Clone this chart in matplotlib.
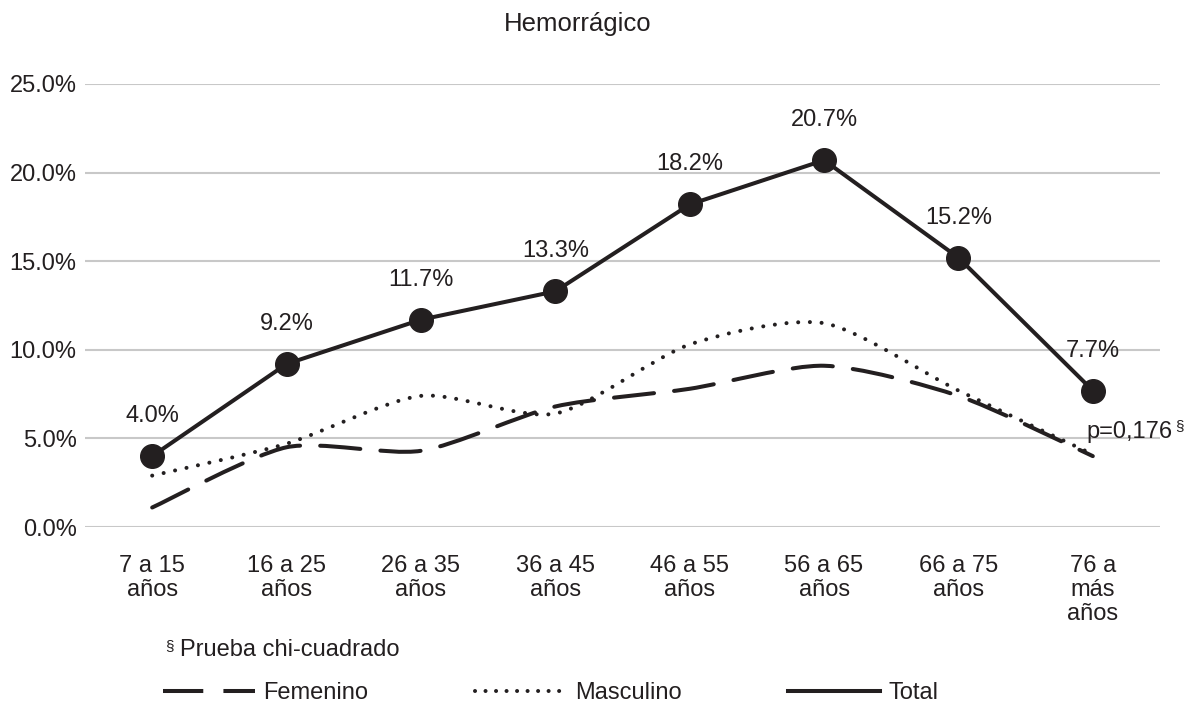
import matplotlib
matplotlib.use("Agg")
import matplotlib.pyplot as plt
import numpy as np
from matplotlib.path import Path
from matplotlib.patches import PathPatch
from matplotlib.lines import Line2D

plt.rcParams['font.family'] = ['Liberation Sans', 'DejaVu Sans']

categories = ["7 a 15\naños", "16 a 25\naños", "26 a 35\naños", "36 a 45\naños",
              "46 a 55\naños", "56 a 65\naños", "66 a 75\naños", "76 a\nmás\naños"]
femenino = [1.1, 4.5, 4.3, 6.8, 7.8, 9.1, 7.4, 4.0]
masculino = [2.9, 4.7, 7.4, 6.4, 10.3, 11.5, 7.7, 4.1]
total = [4.0, 9.2, 11.7, 13.3, 18.2, 20.7, 15.2, 7.7]
yticks = [0, 5, 10, 15, 20, 25]
title = "Hemorrágico"
p_text = "p=0,176"
note = "Prueba chi-cuadrado"

C = "#231f20"

fig = plt.figure(figsize=(11.91, 7.06), dpi=100)
ax = fig.add_axes([85/1191, 1-527/706, 1075/1191, (527-84)/706])

x = np.arange(len(categories))


def smooth_path(xs, ys, k=1/8.0):
    pts = np.column_stack([xs, ys]).astype(float)
    n = len(pts)
    verts = [pts[0]]
    codes = [Path.MOVETO]
    for i in range(n - 1):
        p0 = pts[i - 1] if i > 0 else pts[i]
        p1 = pts[i]
        p2 = pts[i + 1]
        p3 = pts[i + 2] if i + 2 < n else pts[i + 1]
        c1 = p1 + (p2 - p0) * k
        c2 = p2 - (p3 - p1) * k
        verts += [c1, c2, p2]
        codes += [Path.CURVE4] * 3
    return Path(verts, codes)


lw = 2.9
fem_patch = PathPatch(smooth_path(x, femenino), fill=False, edgecolor=C, lw=lw,
                      linestyle=(0, (10, 5)), capstyle='round', zorder=3)
ax.add_patch(fem_patch)
mas_patch = PathPatch(smooth_path(x, masculino), fill=False, edgecolor=C, lw=lw,
                      linestyle=(0, (0.01, 2.9)), capstyle='round', zorder=3)
ax.add_patch(mas_patch)

ax.plot(x, total, color=C, lw=lw, marker='o', markersize=17, zorder=4)

for xi, v in zip(x, total):
    ax.annotate(f"{v:.1f}%", xy=(xi, v), xytext=(0, 40), textcoords='offset pixels',
                ha='center', va='center', fontsize=17, color=C)

ax.set_xlim(-0.5, len(categories) - 0.5)
ax.set_ylim(0, 25)
ax.set_yticks(yticks)
ax.set_yticklabels([f"{t:.1f}%" for t in yticks])
ax.set_xticks(x)
ax.set_xticklabels(categories, linespacing=1.13)
ax.tick_params(axis='both', length=0, labelsize=17, colors=C)
ax.tick_params(axis='y', pad=6)
ax.tick_params(axis='x', pad=20)
ax.grid(axis='y', color='#c8c8c8', lw=1.5)
ax.set_axisbelow(True)
for s in ax.spines.values():
    s.set_visible(False)

# p-value annotation
ax.annotate(p_text, xy=(x[-1], 5.47), xytext=(-6, -2), textcoords='offset pixels',
            ha='left', va='center', fontsize=17, color=C, annotation_clip=False)
ax.annotate("§", xy=(x[-1], 5.47), xytext=(82, 4), textcoords='offset pixels',
            ha='left', va='center', fontsize=11, color=C, annotation_clip=False)

fig.text(578/1191, 1-24/706, title, ha='center', va='center', fontsize=18.5, color=C)
fig.text(165/1191, 1-646/706, "§", ha='left', va='center', fontsize=11, color=C)
fig.text(180/1191, 1-650/706, note, ha='left', va='center', fontsize=17, color=C)

handles = [
    Line2D([], [], color=C, lw=lw, linestyle=(0, (10, 5))),
    Line2D([], [], color=C, lw=lw, linestyle=(0, (0.01, 2.6)), dash_capstyle='round'),
    Line2D([], [], color=C, lw=lw),
]
leg = fig.legend(handles, ["Femenino", "Masculino", "Total"], ncol=3,
                 loc='center left', bbox_to_anchor=(163/1191, 1-693/706),
                 frameon=False, fontsize=17, handlelength=3.9, handletextpad=0.35,
                 columnspacing=4.5, borderpad=0, borderaxespad=0, labelcolor=C)

fig.savefig("out.png", dpi=100)
